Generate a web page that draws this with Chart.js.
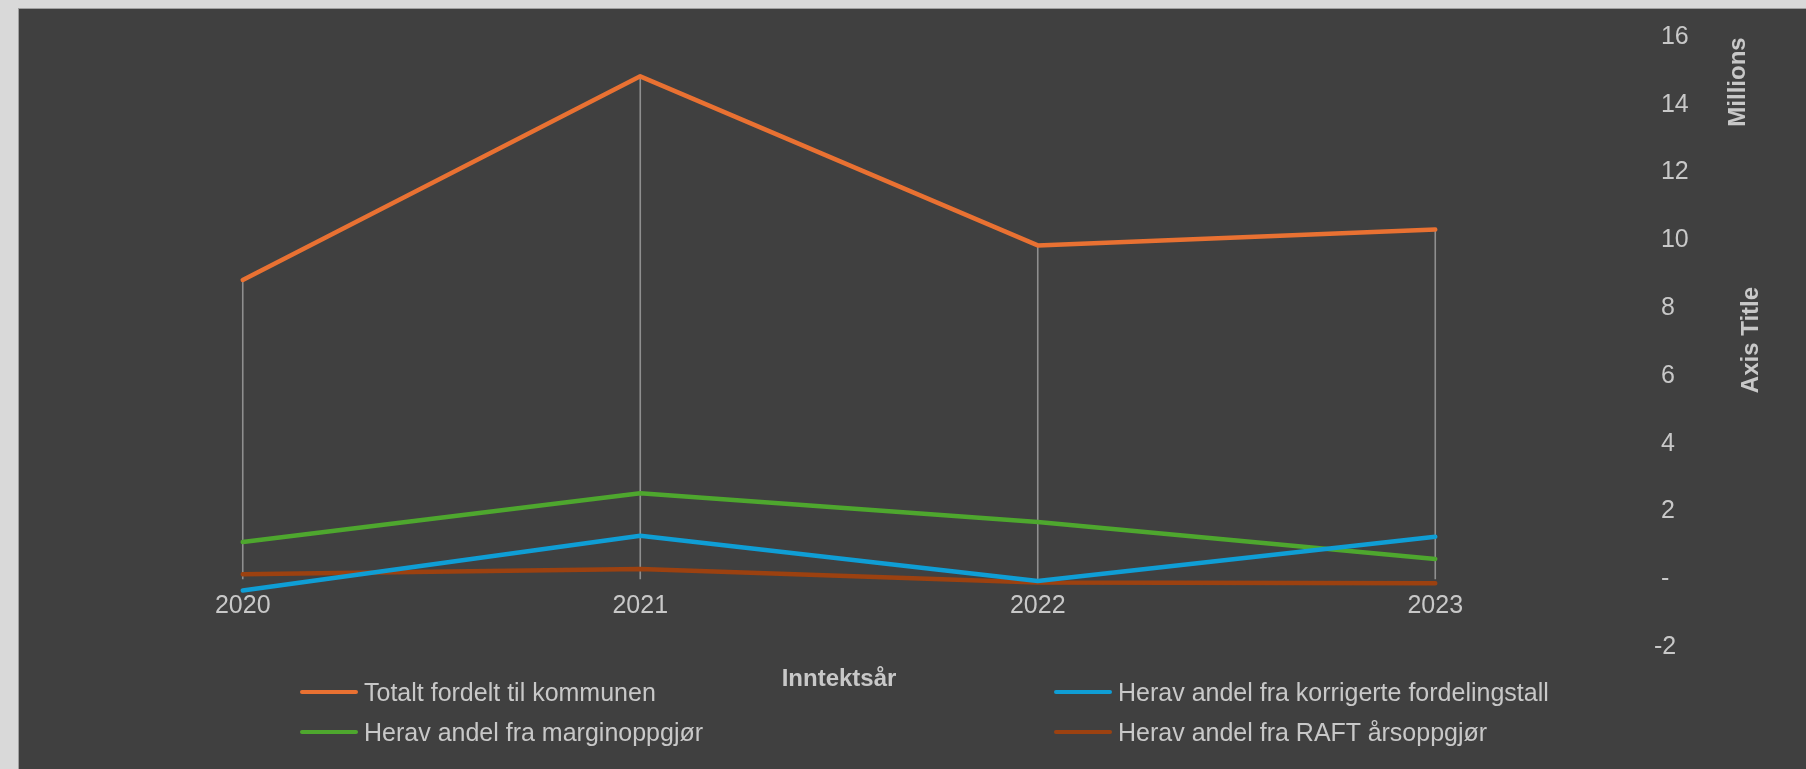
<!DOCTYPE html>
<html>
<head>
<meta charset="utf-8">
<script src="https://cdn.jsdelivr.net/npm/chart.js@4/dist/chart.umd.min.js"></script>
<style>
  html, body { margin: 0; padding: 0; width: 1806px; height: 769px; overflow: hidden; background: #d9d9d9; font-family: "Liberation Sans", Arial, sans-serif; }
  #panel { position: absolute; left: 18px; top: 8px; width: 1788px; height: 761px; background: #404040; border-top: 1px solid #a0a0a0; border-left: 1px solid #a0a0a0; box-sizing: border-box; }
  #wrap { position: absolute; left: 0; top: 0; width: 1806px; height: 769px; }
  .vt { position: absolute; color: #c8c8c8; font-weight: bold; font-size: 24px; white-space: nowrap; transform: translate(-50%, -50%) rotate(-90deg); line-height: 1; }
  .lg { position: absolute; display: flex; align-items: center; color: #c8c8c8; font-size: 25px; white-space: nowrap; line-height: 1; }
  .lg span.sw { display: inline-block; width: 58px; height: 4.5px; border-radius: 2px; margin-right: 6px; }
</style>
</head>
<body>
<div id="panel"></div>
<div id="wrap"><canvas id="c" width="1806" height="769"></canvas></div>
<div class="vt" style="left:1737px; top:82px;">Millions</div>
<div class="vt" style="left:1750px; top:340px;">Axis Title</div>
<div id="legend"></div>
<script>
const categories = ['2020', '2021', '2022', '2023'];
const seriesNames = [
  'Totalt fordelt til kommunen',
  'Herav andel fra korrigerte fordelingstall',
  'Herav andel fra marginoppgjør',
  'Herav andel fra RAFT årsoppgjør'
];
const totalt = [8.83, 14.84, 9.85, 10.32];
const korrigerte = [-0.33, 1.28, -0.05, 1.25];
const margin = [1.10, 2.54, 1.69, 0.60];
const raft = [0.15, 0.30, -0.10, -0.12];
const colors = ['#E97132', '#0F9ED5', '#4EA72E', '#9C4110'];
const yMin = -2, yMax = 16, yStep = 2;
const xTitle = 'Inntektsår';

const seriesValues = [totalt, korrigerte, margin, raft];

const dropLines = {
  id: 'dropLines',
  beforeDatasetsDraw(chart) {
    const {ctx, scales: {x, y}} = chart;
    ctx.save();
    ctx.strokeStyle = '#8f8f8f';
    ctx.lineWidth = 1.6;
    categories.forEach((c, i) => {
      const vals = chart.data.datasets.map(d => d.data[i]);
      const top = Math.max(...vals);
      const px = x.getPixelForValue(i);
      ctx.beginPath();
      ctx.moveTo(px, y.getPixelForValue(top));
      ctx.lineTo(px, y.getPixelForValue(0));
      ctx.stroke();
    });
    ctx.restore();
  }
};

const tickFont = { family: '"Liberation Sans", Arial, sans-serif', size: 25 };
const textColor = '#c8c8c8';

new Chart(document.getElementById('c'), {
  type: 'line',
  data: {
    labels: categories,
    datasets: seriesValues.map((vals, i) => ({
      label: seriesNames[i],
      data: vals,
      borderColor: colors[i],
      backgroundColor: colors[i],
      borderWidth: 4.5,
      pointRadius: 0,
      tension: 0,
      borderCapStyle: 'round',
      borderJoinStyle: 'round',
      fill: false
    }))
  },
  options: {
    responsive: false,
    animation: false,
    layout: { padding: { left: 44, top: 37, right: 118, bottom: 71 } },
    plugins: { legend: { display: false }, tooltip: { enabled: false } },
    scales: {
      x: {
        type: 'category',
        position: { y: 0 },
        offset: true,
        grid: { display: false, drawTicks: false },
        border: { display: false },
        ticks: { color: textColor, font: tickFont, padding: 12, maxRotation: 0 }
      },
      x2: {
        type: 'category',
        labels: categories,
        position: 'bottom',
        offset: true,
        grid: { display: false, drawTicks: false },
        border: { display: false },
        ticks: { display: false },
        title: { display: true, text: xTitle, color: textColor, font: { family: '"Liberation Sans", Arial, sans-serif', size: 24, weight: 'bold' }, padding: { top: 0, bottom: 4 } },
        afterFit(s) { s.height = 51; }
      },
      y: {
        position: 'right',
        min: yMin, max: yMax,
        grid: { display: false, drawTicks: false },
        border: { display: false },
        ticks: {
          stepSize: yStep,
          color: textColor,
          font: tickFont,
          padding: 20,
          callback: v => v > 0 ? ' ' + v : (v === 0 ? ' -' : '-' + Math.abs(v))
        },
        afterFit(s) { s.width = 54; }
      }
    }
  },
  plugins: [dropLines]
});

// HTML legend (two columns)
const legendPos = [[300, 692], [1054, 692], [300, 732], [1054, 732]];
const lg = document.getElementById('legend');
seriesNames.forEach((name, i) => {
  const d = document.createElement('div');
  d.className = 'lg';
  d.style.left = legendPos[i][0] + 'px';
  d.style.top = (legendPos[i][1] - 13) + 'px';
  d.style.height = '26px';
  d.innerHTML = '<span class="sw" style="background:' + colors[i] + '"></span>';
  d.appendChild(document.createTextNode(name));
  lg.appendChild(d);
});
</script>
</body>
</html>
